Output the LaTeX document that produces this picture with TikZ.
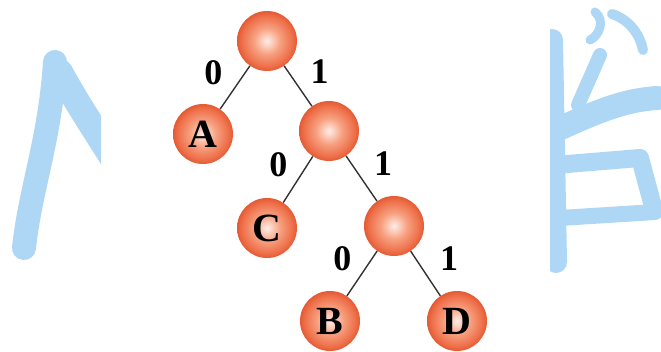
\documentclass[tikz,border=0pt]{standalone}
\usepackage{fontspec}
\setmainfont{Liberation Serif}
\definecolor{ballhi}{RGB}{255,238,232}
\definecolor{ballmid}{RGB}{247,160,128}
\definecolor{ballout}{RGB}{238,112,74}
\definecolor{balledge}{RGB}{228,90,52}
\definecolor{inkblue}{RGB}{174,214,245}
\definecolor{edgegray}{RGB}{50,50,50}
\pgfdeclareradialshading{ballglow}{\pgfpointorigin}{%
  color(0bp)=(ballhi); color(11bp)=(ballmid); color(21bp)=(ballout);
  color(25bp)=(balledge); color(50bp)=(balledge)}
\tikzset{
  ball/.style={circle, minimum size=60pt, inner sep=0pt, shading=ballglow,
    font=\fontsize{40}{40}\selectfont\bfseries},
  edge/.style={edgegray, line width=1.4pt},
  bit/.style={text=black, font=\fontsize{36}{36}\selectfont\bfseries, inner sep=2pt},
  brush/.style={inkblue, line cap=round, line join=round}
}

\begin{document}
\begin{tikzpicture}[x=1pt,y=-1pt]
\useasboundingbox (0,0) rectangle (661,352);
% watermark, left part
\begin{scope}
\clip (0,0) rectangle (101,352);
\draw[brush, line width=24pt] (55,62) .. controls (50,140) and (30,190) .. (24,248);
\draw[brush, line width=26pt] (60,72) .. controls (75,100) and (95,130) .. (120,170);
\end{scope}
% watermark, right part
\begin{scope}
\clip (550,0) rectangle (661,352);
\draw[brush, line width=22pt] (552,40) -- (556,262);
\draw[brush, line width=9pt] (595,12) .. controls (605,20) and (600,35) .. (590,40);
\draw[brush, line width=10pt] (612,14) .. controls (630,20) and (640,35) .. (643,50);
\draw[brush, line width=14pt] (600,55) -- (578,105);
\draw[brush, line width=24pt] (545,135) .. controls (590,115) and (620,100) .. (658,98);
\draw[brush, line width=18pt] (555,165) -- (640,158) -- (654,210);
\draw[brush, line width=16pt] (560,218) -- (655,212);
\end{scope}
% tree
\node[ball] (root) at (267,41) {};
\node[ball] (A) at (203,134) {A};
\node[ball] (n1) at (329,131) {};
\node[ball] (C) at (267,228) {C};
\node[ball] (n2) at (394,226) {};
\node[ball] (B) at (330,321) {B};
\node[ball] (D) at (457,321) {D};
\draw[edge] (root) -- node[bit, above left, xshift=-10pt] {0} (A);
\draw[edge] (root) -- node[bit, above right, xshift=10pt] {1} (n1);
\draw[edge] (n1) -- node[bit, above left, xshift=-8pt] {0} (C);
\draw[edge] (n1) -- node[bit, above right, xshift=10pt] {1} (n2);
\draw[edge] (n2) -- node[bit, above left, xshift=-8pt] {0} (B);
\draw[edge] (n2) -- node[bit, above right, xshift=12pt] {1} (D);
\end{tikzpicture}
\end{document}
